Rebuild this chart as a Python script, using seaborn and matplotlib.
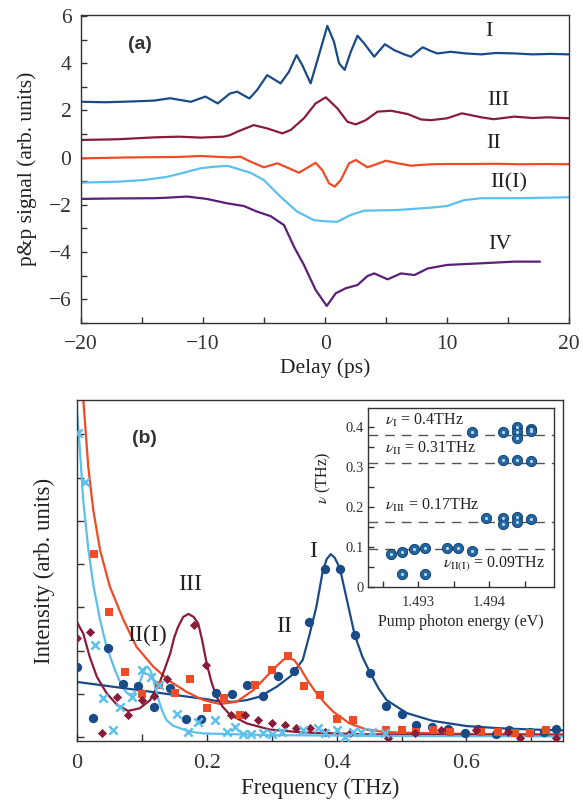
import numpy as np
import pandas as pd
import matplotlib
matplotlib.use('Agg')
import matplotlib.pyplot as plt
import seaborn as sns
from matplotlib.ticker import FixedLocator, MultipleLocator

# ---------------- Panel (a): pump-probe traces ----------------
a_I_x = [-20, -18, -16, -14, -12.7, -11, -9.8, -8.8, -7.8, -7.2, -6.7, -6.2, -5.57, -4.75, -3.65, -2.97, -2.34,
         -1.88, -1.19, -0.59, 0.18, 0.72, 1.14, 1.6, 2.1, 2.65, 3.19, 4.02, 4.89, 5.66, 6.48, 7.03, 7.99, 8.67,
         9.2, 10.3, 11.5, 12.8, 14, 15.5, 17, 18.5, 20]
a_I_y = [2.37, 2.35, 2.38, 2.42, 2.52, 2.37, 2.59, 2.30, 2.72, 2.80, 2.65, 2.51, 2.87, 3.50, 3.15, 3.64, 4.35,
         3.93, 3.15, 4.21, 5.59, 4.92, 4.00, 3.72, 4.49, 5.17, 4.85, 4.28, 4.81, 4.56, 4.38, 4.28, 4.68, 4.52,
         4.42, 4.49, 4.42, 4.38, 4.44, 4.42, 4.38, 4.40, 4.38]

a_III_x = [-20, -17, -14, -12, -10.2, -8.3, -7.77, -7.2, -5.85, -4.75, -3.51, -2.83, -1.74, -0.78, 0.05, 1.0,
           1.83, 2.51, 3.33, 4.29, 5.39, 6.76, 7.85, 8.67, 10.0, 11.2, 12.8, 13.8, 15.5, 17, 18.2, 20]
a_III_y = [0.75, 0.78, 0.86, 0.89, 0.85, 0.89, 0.96, 1.10, 1.38, 1.24, 1.03, 1.17, 1.67, 2.30, 2.56, 2.09,
           1.52, 1.41, 1.59, 1.95, 1.99, 1.85, 1.62, 1.59, 1.67, 1.88, 1.71, 1.63, 1.74, 1.68, 1.71, 1.67]

a_II_x = [-20, -16, -12, -10.2, -7.77, -6.94, -6.12, -5.02, -3.92, -2.97, -2.15, -0.78, -0.23, 0.32, 0.78,
          1.28, 1.96, 2.51, 3.47, 4.02, 4.98, 5.94, 7.03, 8.67, 10, 12, 14, 16, 18, 20]
a_II_y = [-0.03, 0.01, 0.03, 0.07, 0.01, 0.04, -0.17, -0.41, -0.24, -0.45, -0.64, -0.22, -0.53, -1.09, -1.23,
          -0.95, -0.24, -0.10, -0.41, -0.31, -0.13, -0.24, -0.34, -0.28, -0.27, -0.27, -0.26, -0.28, -0.27, -0.28]

a_III1_x = [-20, -17, -14.9, -13, -11.6, -10.2, -9, -8.0, -7.77, -6.12, -5.02, -3.65, -2.29, -0.92, 0.0, 1.0,
            2.1, 3.19, 5.94, 8.67, 10.0, 11.4, 12.8, 15.5, 18, 20]
a_III1_y = [-1.06, -1.02, -0.95, -0.82, -0.64, -0.45, -0.38, -0.35, -0.38, -0.64, -0.95, -1.66, -2.29, -2.65,
            -2.70, -2.72, -2.43, -2.25, -2.22, -2.12, -2.05, -1.80, -1.72, -1.72, -1.70, -1.68]

a_IV_x = [-20, -17, -14, -13, -11.3, -9.7, -8.0, -6.67, -5.57, -4.47, -3.37, -2.55, -1.74, -0.78, 0.13, 0.87,
          1.69, 2.65, 3.47, 4.02, 5.12, 6.21, 7.31, 8.4, 10, 12.8, 15.5, 17.6]
a_IV_y = [-1.75, -1.73, -1.72, -1.70, -1.65, -1.75, -1.94, -2.05, -2.29, -2.48, -2.86, -3.78, -4.55, -5.61,
          -6.29, -5.75, -5.54, -5.40, -5.02, -4.91, -5.16, -4.91, -4.98, -4.70, -4.55, -4.48, -4.41, -4.41]

a_xticks = [-20, -10, 0, 10, 20]
a_xtick_labels = ['\u221220', '\u221210', '0', '10', '20']
a_yticks = [-6, -4, -2, 0, 2, 4, 6]
a_ytick_labels = ['\u22126', '\u22124', '\u22122', '0', '2', '4', '6']

# ---------------- Panel (b): spectra ----------------
fitI_x = [0.0, 0.05, 0.1, 0.15, 0.2, 0.215, 0.24, 0.262, 0.282, 0.308, 0.33, 0.348, 0.358, 0.369, 0.379,
          0.385, 0.391, 0.397, 0.405, 0.417, 0.428, 0.44, 0.452, 0.465, 0.477, 0.508, 0.548, 0.60, 0.65,
          0.70, 0.749]
fitI_y = [1.28, 1.18, 1.08, 0.98, 0.88, 0.84, 0.82, 0.86, 0.94, 1.17, 1.42, 1.79, 2.35, 3.02, 3.86,
          4.12, 4.23, 4.15, 3.91, 3.10, 2.36, 1.85, 1.48, 1.12, 0.86, 0.56, 0.38, 0.26, 0.21,
          0.18, 0.16]
datI_x = [0.001, 0.025, 0.048, 0.072, 0.095, 0.119, 0.144, 0.168, 0.191, 0.214, 0.239, 0.262, 0.286, 0.31,
          0.334, 0.358, 0.382, 0.406, 0.429, 0.452, 0.476, 0.50, 0.523, 0.547, 0.571, 0.597, 0.617, 0.646,
          0.666, 0.697, 0.72, 0.738]
datI_y = [1.63, 0.45, 2.06, 1.23, 1.18, 0.71, 1.14, 0.42, 0.42, 1.02, 1.00, 1.21, 0.95, 1.42,
          1.54, 2.67, 3.89, 3.89, 2.36, 1.48, 0.72, 0.55, 0.28, 0.23, 0.19, 0.09, 0.19, 0.08,
          0.16, 0.12, 0.13, 0.19]

fitII_x = [0.0102, 0.0178, 0.0255, 0.036, 0.051, 0.072, 0.092, 0.118, 0.144, 0.169, 0.195, 0.22, 0.246,
           0.272, 0.297, 0.31, 0.318, 0.326, 0.335, 0.344, 0.356, 0.369, 0.382, 0.395, 0.42, 0.446, 0.47,
           0.497, 0.60, 0.749]
fitII_y = [7.79, 6.25, 5.25, 4.32, 3.48, 2.71, 2.09, 1.63, 1.29, 1.05, 0.86, 0.77, 0.82,
           1.09, 1.48, 1.68, 1.79, 1.84, 1.78, 1.60, 1.30, 1.02, 0.79, 0.59, 0.32, 0.18, 0.13,
           0.11, 0.08, 0.07]
datII_x = [0.026, 0.05, 0.075, 0.10, 0.127, 0.151, 0.175, 0.20, 0.227, 0.251, 0.275, 0.30, 0.325, 0.35,
           0.375, 0.40, 0.425, 0.476, 0.50, 0.523, 0.549, 0.574, 0.623, 0.648, 0.674, 0.697, 0.722]
datII_y = [4.23, 2.90, 1.51, 0.99, 1.21, 1.03, 1.34, 0.67, 0.90, 0.52, 1.21, 1.55, 1.88, 1.19,
           0.98, 0.42, 0.40, 0.17, 0.16, 0.13, 0.16, 0.13, 0.13, 0.12, 0.11, 0.09, 0.16]

fitIII_x = [0.0, 0.01, 0.02, 0.031, 0.046, 0.062, 0.079, 0.097, 0.113, 0.128, 0.136, 0.144, 0.15, 0.156,
            0.164, 0.172, 0.18, 0.187, 0.193, 0.20, 0.207, 0.215, 0.225, 0.236, 0.262, 0.297, 0.349, 0.446,
            0.749]
fitIII_y = [2.67, 2.40, 1.86, 1.40, 1.02, 0.75, 0.61, 0.67, 0.86, 1.28, 1.60, 1.94, 2.30, 2.55,
            2.78, 2.85, 2.78, 2.63, 2.25, 1.71, 1.30, 0.94, 0.70, 0.52, 0.32, 0.18, 0.11, 0.07,
            0.04]
datIII_x = [0.001, 0.02, 0.039, 0.062, 0.079, 0.10, 0.119, 0.139, 0.18, 0.199, 0.238, 0.259, 0.279, 0.30,
            0.32, 0.338, 0.359, 0.382, 0.42, 0.479, 0.52, 0.561, 0.615, 0.664, 0.682, 0.738]
datIII_y = [2.29, 2.44, 0.09, 0.94, 0.52, 0.86, 0.95, 1.34, 2.59, 1.67, 0.52, 0.52, 0.40, 0.32,
            0.28, 0.21, 0.21, 0.13, 0.10, -0.02, 0.10, 0.17, 0.17, 0.13, -0.02, -0.02]

fitII1_x = [0.0, 0.005, 0.01, 0.018, 0.026, 0.036, 0.046, 0.059, 0.066, 0.072, 0.077, 0.082, 0.087, 0.092,
            0.097, 0.102, 0.106, 0.109, 0.113, 0.117, 0.121, 0.126, 0.132, 0.138, 0.148, 0.159, 0.175, 0.195,
            0.30, 0.50, 0.749]
fitII1_y = [7.63, 6.63, 5.48, 4.33, 3.48, 2.71, 2.09, 1.55, 1.30, 1.13, 1.03, 0.98, 1.01, 1.09,
            1.25, 1.48, 1.60, 1.63, 1.56, 1.40, 1.14, 0.86, 0.60, 0.40, 0.27, 0.21, 0.13, 0.09,
            0.05, 0.03, 0.02]
datII1_x = [0.002, 0.013, 0.028, 0.041, 0.056, 0.067, 0.085, 0.10, 0.115, 0.126, 0.154, 0.172, 0.187, 0.213,
            0.231, 0.243, 0.256, 0.268, 0.286, 0.301, 0.316, 0.349, 0.371, 0.382, 0.40, 0.413, 0.425, 0.438,
            0.454, 0.474]
datII1_y = [7.02, 5.90, 2.14, 0.90, 0.17, 0.71, 0.94, 1.55, 1.40, 1.21, 0.55, 0.13, 0.36, 0.40,
            0.13, 0.24, 0.08, 0.08, 0.10, 0.08, 0.12, 0.17, 0.21, 0.11, 0.17, 0.00, 0.13, 0.13,
            0.13, 0.10]

b_xticks = [0.0, 0.2, 0.4, 0.6]
b_xtick_labels = ['0', '0.2', '0.4', '0.6']

# ---------------- Inset: frequency vs pump energy ----------------
ins_x = [1.493765, 1.494197, 1.494394, 1.494394, 1.494394, 1.494587, 1.494587,
         1.494197, 1.494394, 1.494587,
         1.493953, 1.494197, 1.494197, 1.494394, 1.494394, 1.494587,
         1.492615, 1.492775, 1.492939, 1.493099, 1.493408, 1.493563, 1.493765,
         1.492775, 1.493099]
ins_y = [0.389, 0.3875, 0.400, 0.3875, 0.3725, 0.396, 0.390,
         0.317, 0.317, 0.314,
         0.171, 0.171, 0.158, 0.175, 0.1625, 0.169,
         0.082, 0.0875, 0.093, 0.096, 0.0975, 0.096, 0.090,
         0.031, 0.031]
ins_lines = [0.381, 0.310, 0.1625, 0.094]
ins_labels = [r'$\nu_{\rm I}$ = 0.4THz', r'$\nu_{\rm II}$ = 0.31THz', r'$\nu_{\rm III}$ = 0.17THz',
              r'$\nu_{\rm II(I)}$ = 0.09THz']
ins_xticks = [1.493, 1.494]
ins_xtick_labels = ['1.493', '1.494']
ins_yticks = [0.0, 0.1, 0.2, 0.3, 0.4]
ins_ytick_labels = ['0', '0.1', '0.2', '0.3', '0.4']

# colours
C_BLUE = '#1b4b87'
C_RED = '#8a1c3b'
C_ORANGE = '#ef4b27'
C_LBLUE = '#5cc0ec'
C_PURPLE = '#5b1f78'

sns.set_theme(style='ticks')
plt.rcParams['font.family'] = ['Liberation Serif', 'DejaVu Serif']
plt.rcParams['mathtext.fontset'] = 'stix'
plt.rcParams['axes.edgecolor'] = '#333333'
plt.rcParams['axes.linewidth'] = 1.0
plt.rcParams['xtick.color'] = '#333333'
plt.rcParams['ytick.color'] = '#333333'
plt.rcParams['text.color'] = '#222222'
plt.rcParams['axes.labelcolor'] = '#222222'

W, H = 583, 805
fig = plt.figure(figsize=(W / 100, H / 100), dpi=100)
fig.patch.set_facecolor('white')

def frac(l, t, r, b):
    return [l / W, 1 - b / H, (r - l) / W, (b - t) / H]

# ---------- panel (a)
axA = fig.add_axes(frac(81, 15, 569.3, 322.7))
for xs, ys, c in [(a_I_x, a_I_y, C_BLUE), (a_III_x, a_III_y, C_RED), (a_II_x, a_II_y, C_ORANGE),
                  (a_III1_x, a_III1_y, C_LBLUE), (a_IV_x, a_IV_y, C_PURPLE)]:
    sns.lineplot(x=xs, y=ys, ax=axA, color=c, lw=1.6, errorbar=None)
axA.set_xlim(-20, 20)
axA.set_ylim(-7.0, 6.05)
axA.xaxis.set_major_locator(FixedLocator(a_xticks))
axA.set_xticklabels(a_xtick_labels)
axA.xaxis.set_minor_locator(MultipleLocator(5))
axA.yaxis.set_major_locator(FixedLocator(a_yticks))
axA.set_yticklabels(a_ytick_labels)
axA.yaxis.set_minor_locator(MultipleLocator(1))
axA.tick_params(which='both', direction='in', length=4, width=1.0, labelsize=15.5, top=False, right=False)
axA.tick_params(axis='x', which='major', pad=9)
axA.tick_params(axis='y', which='major', pad=7)
axA.set_xlabel('Delay (ps)', fontsize=15.5, labelpad=3)
axA.set_ylabel('p&p signal (arb. units)', fontsize=15.5, labelpad=8)
for txt, x, y in [('I', 13.4, 5.33), ('III', 14.15, 2.44), ('II', 13.8, 0.62), ('II(I)', 15.0, -1.08),
                  ('IV', 14.3, -3.7)]:
    axA.text(x, y, txt, fontsize=16, ha='center', va='center')
axA.text(-15.16, 4.78, '(a)', fontsize=14, fontweight='bold', ha='center', va='center',
         family=['Liberation Sans', 'DejaVu Sans'], color='#333333')

# ---------- panel (b)
axB = fig.add_axes(frac(76.7, 400, 563.3, 741))
sns.lineplot(x=fitI_x, y=fitI_y, ax=axB, color=C_BLUE, lw=1.6, errorbar=None)
sns.lineplot(x=fitII_x, y=fitII_y, ax=axB, color=C_ORANGE, lw=1.6, errorbar=None)
sns.lineplot(x=fitIII_x, y=fitIII_y, ax=axB, color=C_RED, lw=1.6, errorbar=None)
sns.lineplot(x=fitII1_x, y=fitII1_y, ax=axB, color=C_LBLUE, lw=1.6, errorbar=None)
sns.scatterplot(x=datI_x, y=datI_y, ax=axB, marker='o', s=45, color=C_BLUE, linewidth=0, zorder=3)
sns.scatterplot(x=datII_x, y=datII_y, ax=axB, marker='s', s=40, color=C_ORANGE, linewidth=0, zorder=3)
sns.scatterplot(x=datIII_x, y=datIII_y, ax=axB, marker='D', s=22, color=C_RED, linewidth=0, zorder=3)
sns.scatterplot(x=datII1_x, y=datII1_y, ax=axB, marker='x', s=36, color=C_LBLUE, linewidth=1.8, zorder=3)
axB.set_xlim(0, 0.749)
axB.set_ylim(-0.085, 7.79)
axB.xaxis.set_major_locator(FixedLocator(b_xticks))
axB.set_xticklabels(b_xtick_labels)
axB.xaxis.set_minor_locator(MultipleLocator(0.1))
axB.yaxis.set_major_locator(MultipleLocator(1))
axB.set_yticklabels([])
axB.tick_params(which='both', direction='in', length=5, width=1.0, labelsize=16, top=False, right=False)
axB.tick_params(axis='x', which='major', pad=9)
axB.set_xlabel('Frequency (THz)', fontsize=16.5, labelpad=4)
axB.set_ylabel('Intensity (arb. units)', fontsize=16.5, labelpad=12)
for txt, x, y in [('I', 0.364, 4.29), ('II', 0.32, 2.57), ('III', 0.174, 3.52), ('II(I)', 0.108, 2.36)]:
    axB.text(x, y, txt, fontsize=17, ha='center', va='center')
axB.text(0.105, 6.91, '(b)', fontsize=14, fontweight='bold', ha='center', va='center',
         family=['Liberation Sans', 'DejaVu Sans'], color='#333333')

# ---------- inset
axI = fig.add_axes(frac(368.3, 407.7, 554.0, 587.3))
axI.set_facecolor('white')
for yv in ins_lines:
    axI.axhline(yv, color='#555555', lw=1.0, ls=(0, (7, 5)), zorder=1)
sns.scatterplot(x=ins_x, y=ins_y, ax=axI, marker='o', s=55, color='#22659f', edgecolor='#0e3a66',
                linewidth=0.6, zorder=3)
sns.scatterplot(x=ins_x, y=ins_y, ax=axI, marker='o', s=5, color='#b9d9f2', linewidth=0, zorder=4)
axI.set_xlim(1.492296, 1.494915)
axI.set_ylim(-0.002, 0.449)
axI.xaxis.set_major_locator(FixedLocator(ins_xticks))
axI.set_xticklabels(ins_xtick_labels)
axI.xaxis.set_minor_locator(MultipleLocator(0.0005))
axI.yaxis.set_major_locator(FixedLocator(ins_yticks))
axI.set_yticklabels(ins_ytick_labels)
axI.yaxis.set_minor_locator(MultipleLocator(0.05))
axI.tick_params(which='both', direction='in', length=4, width=1.0, labelsize=10.5, top=False, right=False)
axI.tick_params(axis='x', which='major', pad=6)
axI.set_xlabel('Pump photon energy (eV)', fontsize=11.5, labelpad=4)
axI.set_ylabel(r'$\nu$ (THz)', fontsize=11.5)
axI.yaxis.set_label_coords(-0.19, 0.61)
for txt, x, y in zip(ins_labels, [1.492535, 1.492535, 1.492535, 1.493356], [0.417, 0.346, 0.204, 0.058]):
    axI.text(x, y, txt, fontsize=11.5, ha='left', va='center')

fig.savefig('out.png', dpi=100, facecolor='white')
